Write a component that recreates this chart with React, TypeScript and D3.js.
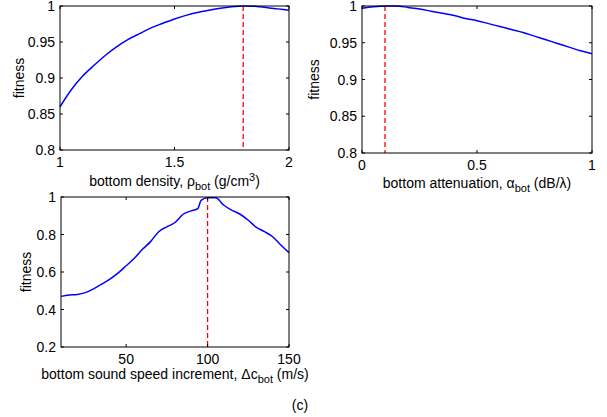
import React from "react";
import * as d3 from "d3";

const densityX = [1.0, 1.05, 1.1, 1.15, 1.2, 1.25, 1.3, 1.35, 1.4, 1.45, 1.5, 1.55, 1.6, 1.65, 1.7, 1.75, 1.8, 1.85, 1.9, 1.95, 2.0];
const densityFit = [0.860, 0.884, 0.903, 0.918, 0.932, 0.944, 0.954, 0.962, 0.970, 0.976, 0.982, 0.987, 0.991, 0.994, 0.997, 0.999, 1.0, 0.9995, 0.998, 0.996, 0.994];
const densityTrue = 1.8;

const attenX = [0, 0.05, 0.1, 0.15, 0.2, 0.25, 0.3, 0.35, 0.4, 0.45, 0.5, 0.55, 0.6, 0.65, 0.7, 0.75, 0.8, 0.85, 0.9, 0.95, 1.0];
const attenFit = [0.997, 0.999, 1.0, 1.0, 0.998, 0.996, 0.993, 0.990, 0.987, 0.983, 0.980, 0.976, 0.972, 0.968, 0.964, 0.959, 0.954, 0.949, 0.944, 0.939, 0.935];
const attenTrue = 0.1;

const speedX = [10, 15, 20, 25, 30, 35, 40, 45, 50, 55, 60, 65, 70, 75, 80, 85, 90, 94, 96, 100, 105, 110, 115, 120, 125, 130, 135, 140, 145, 150];
const speedFit = [0.470, 0.477, 0.480, 0.490, 0.510, 0.535, 0.562, 0.594, 0.633, 0.673, 0.721, 0.762, 0.815, 0.841, 0.864, 0.908, 0.926, 0.938, 0.982, 0.996, 0.996, 0.956, 0.929, 0.908, 0.876, 0.838, 0.815, 0.788, 0.744, 0.703];
const speedTrue = 100;

const densityXTicks = [1, 1.5, 2];
const densityYTicks = [0.8, 0.85, 0.9, 0.95, 1];
const attenXTicks = [0, 0.5, 1];
const attenYTicks = [0.8, 0.85, 0.9, 0.95, 1];
const speedXTicks = [50, 100, 150];
const speedYTicks = [0.2, 0.4, 0.6, 0.8, 1];

const FONT = "Liberation Sans, Arial, sans-serif";
const FS = 14;
const SUB = 11;

type PanelProps = {
  x0: number; x1: number; y0: number; y1: number;
  xd: [number, number]; yd: [number, number];
  xs: number[]; ys: number[];
  xTicks: number[]; yTicks: number[];
  trueVal: number;
  xTickBase: number;
  xLabelBase: number;
  yLabelX: number;
  label: React.ReactNode;
};

function Panel(p: PanelProps) {
  const sx = d3.scaleLinear().domain(p.xd).range([p.x0, p.x1]);
  const sy = d3.scaleLinear().domain(p.yd).range([p.y1, p.y0]);
  const line = d3.line<number>().x((_, i) => sx(p.xs[i])).y((d) => sy(d)).curve(d3.curveMonotoneX);
  const tl = 3;
  return (
    <g>
      <rect x={p.x0} y={p.y0} width={p.x1 - p.x0} height={p.y1 - p.y0} fill="white" />
      <path d={line(p.ys) || ""} fill="none" stroke="#0000ff" strokeWidth={1.5} />
      <line x1={sx(p.trueVal)} x2={sx(p.trueVal)} y1={p.y0} y2={p.y1} stroke="#ff0000" strokeWidth={1.3} strokeDasharray="5,3" />
      <rect x={p.x0} y={p.y0} width={p.x1 - p.x0} height={p.y1 - p.y0} fill="none" stroke="#000" strokeWidth={1} />
      {p.xTicks.map((t) => (
        <g key={"x" + t}>
          <line x1={sx(t)} x2={sx(t)} y1={p.y1} y2={p.y1 - tl} stroke="#000" />
          <line x1={sx(t)} x2={sx(t)} y1={p.y0} y2={p.y0 + tl} stroke="#000" />
          <text x={sx(t)} y={p.xTickBase} textAnchor="middle" fontSize={FS} fontFamily={FONT}>{String(t)}</text>
        </g>
      ))}
      {p.yTicks.map((t) => (
        <g key={"y" + t}>
          <line x1={p.x0} x2={p.x0 + tl} y1={sy(t)} y2={sy(t)} stroke="#000" />
          <line x1={p.x1} x2={p.x1 - tl} y1={sy(t)} y2={sy(t)} stroke="#000" />
          <text x={p.x0 - 5} y={sy(t) + 5} textAnchor="end" fontSize={FS} fontFamily={FONT}>{String(t)}</text>
        </g>
      ))}
      <text x={(p.x0 + p.x1) / 2} y={p.xLabelBase} textAnchor="middle" fontSize={FS} fontFamily={FONT}>{p.label}</text>
      <text transform={`translate(${p.yLabelX},${(p.y0 + p.y1) / 2}) rotate(-90)`} textAnchor="middle" fontSize={FS} fontFamily={FONT}>fitness</text>
    </g>
  );
}

export default function App() {
  return (
    <svg width={607} height={417} style={{ position: "absolute", left: 0, top: 0, background: "white" }}>
      <rect width={607} height={417} fill="white" />
      <Panel x0={60} x1={289} y0={6} y1={150} xd={[1, 2]} yd={[0.8, 1]} xs={densityX} ys={densityFit}
        xTicks={densityXTicks} yTicks={densityYTicks} trueVal={densityTrue} xTickBase={167} xLabelBase={186} yLabelX={24}
        label={<>bottom density, ρ<tspan dy={4} fontSize={SUB}>bot</tspan><tspan dy={-4}> (g/cm</tspan><tspan dy={-5} fontSize={SUB}>3</tspan><tspan dy={5}>)</tspan></>} />
      <Panel x0={362} x1={592} y0={6} y1={153} xd={[0, 1]} yd={[0.8, 1]} xs={attenX} ys={attenFit}
        xTicks={attenXTicks} yTicks={attenYTicks} trueVal={attenTrue} xTickBase={170} xLabelBase={188} yLabelX={319}
        label={<>bottom attenuation, α<tspan dy={4} fontSize={SUB}>bot</tspan><tspan dy={-4}> (dB/λ)</tspan></>} />
      <Panel x0={61} x1={289} y0={197} y1={347} xd={[10, 150]} yd={[0.2, 1]} xs={speedX} ys={speedFit}
        xTicks={speedXTicks} yTicks={speedYTicks} trueVal={speedTrue} xTickBase={364} xLabelBase={379} yLabelX={31}
        label={<>bottom sound speed increment, Δc<tspan dy={4} fontSize={SUB}>bot</tspan><tspan dy={-4}> (m/s)</tspan></>} />
      <text x={300} y={410} textAnchor="middle" fontSize={FS} fontFamily={FONT}>(c)</text>
    </svg>
  );
}
